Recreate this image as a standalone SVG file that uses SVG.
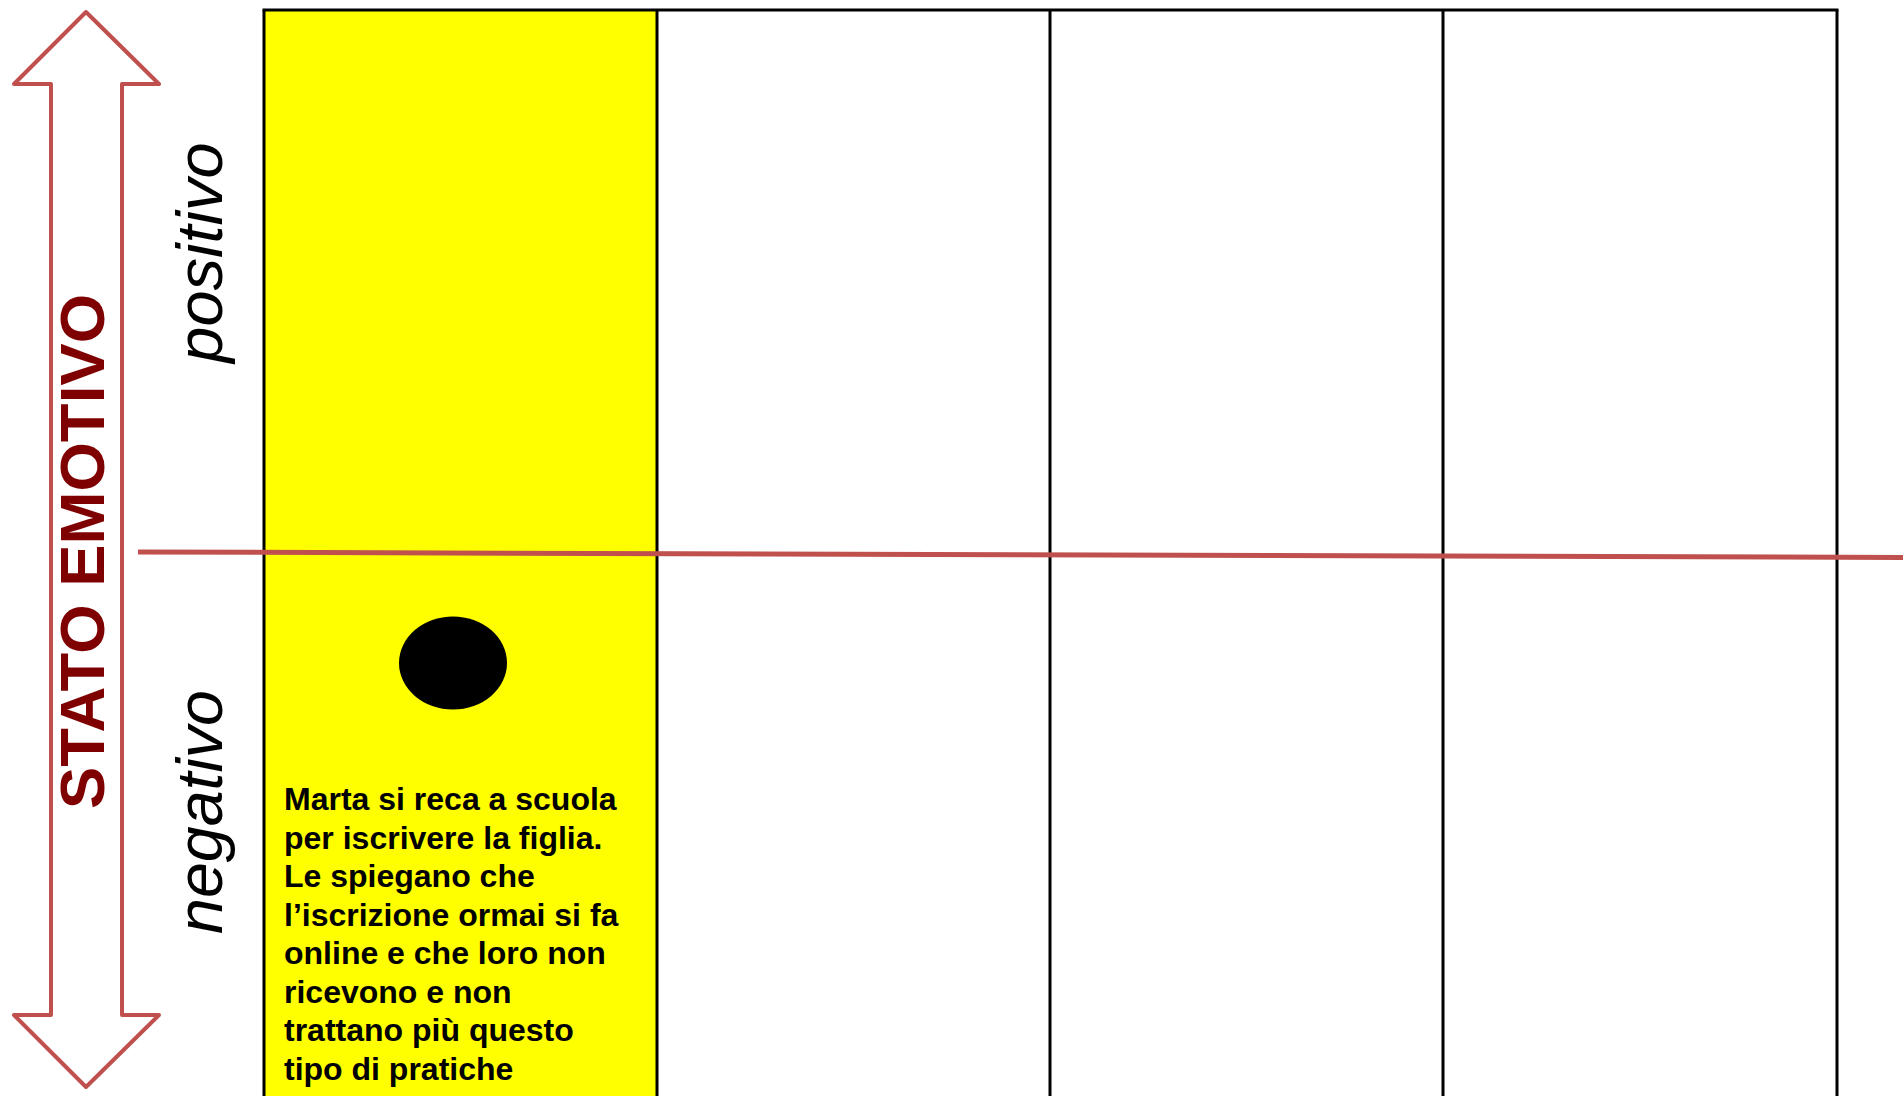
<svg xmlns="http://www.w3.org/2000/svg" width="1903" height="1096" viewBox="0 0 1903 1096">
  <style>
    .grid { stroke: #000000; stroke-width: 3; fill: none; }
    .red { stroke: #C0504D; fill: none; }
    .title { font-family: "Liberation Sans", Arial, sans-serif; font-weight: bold; fill: #7F0000; }
    .label { font-family: "Liberation Sans", Arial, sans-serif; font-style: italic; fill: #000000; }
    .body { font-family: "Liberation Sans", Arial, sans-serif; font-weight: bold; fill: #000000; font-size: 32px; }
  </style>
  <rect x="0" y="0" width="1903" height="1096" fill="#FFFFFF"/>

  <g id="yellow-cell">
    <rect x="264" y="10" width="393" height="1090" fill="#FFFF00"/>
  </g>

  <g id="grid">
    <line class="grid" x1="262.5" y1="10" x2="1838.5" y2="10"/>
    <line class="grid" x1="264" y1="10" x2="264" y2="1096"/>
    <line class="grid" x1="657" y1="10" x2="657" y2="1096"/>
    <line class="grid" x1="1050" y1="10" x2="1050" y2="1096"/>
    <line class="grid" x1="1443" y1="10" x2="1443" y2="1096"/>
    <line class="grid" x1="1837" y1="10" x2="1837" y2="1096"/>
  </g>

  <g id="connectors">
    <line class="red" stroke-width="5" x1="138" y1="552" x2="1903" y2="557.5"/>
  </g>

  <g id="axis-arrow">
    <path class="red" stroke-width="4" stroke-linejoin="round" fill="#FFFFFF"
          d="M86,12 L159,84 L122,84 L122,1015 L159,1015 L86,1087 L14,1015 L51,1015 L51,84 L14,84 Z"/>
    <text class="title" font-size="63.5" text-anchor="middle" transform="translate(104,551.5) rotate(-90)">STATO EMOTIVO</text>
  </g>

  <g id="label-positivo">
    <text class="label" font-size="65" text-anchor="middle" transform="translate(222,252.5) rotate(-90)">positivo</text>
  </g>

  <g id="label-negativo">
    <text class="label" font-size="64.5" text-anchor="middle" transform="translate(222,812) rotate(-90)">negativo</text>
  </g>

  <g id="event-dot">
    <ellipse cx="453" cy="663" rx="54" ry="46.5" fill="#000000"/>
  </g>

  <g id="event-text">
    <text class="body" x="284" y="810">Marta si reca a scuola</text>
    <text class="body" x="284" y="848.5">per iscrivere la figlia.</text>
    <text class="body" x="284" y="887">Le spiegano che</text>
    <text class="body" x="284" y="925.5">l’iscrizione ormai si fa</text>
    <text class="body" x="284" y="964">online e che loro non</text>
    <text class="body" x="284" y="1002.5">ricevono e non</text>
    <text class="body" x="284" y="1041">trattano più questo</text>
    <text class="body" x="284" y="1079.5">tipo di pratiche</text>
  </g>
</svg>
